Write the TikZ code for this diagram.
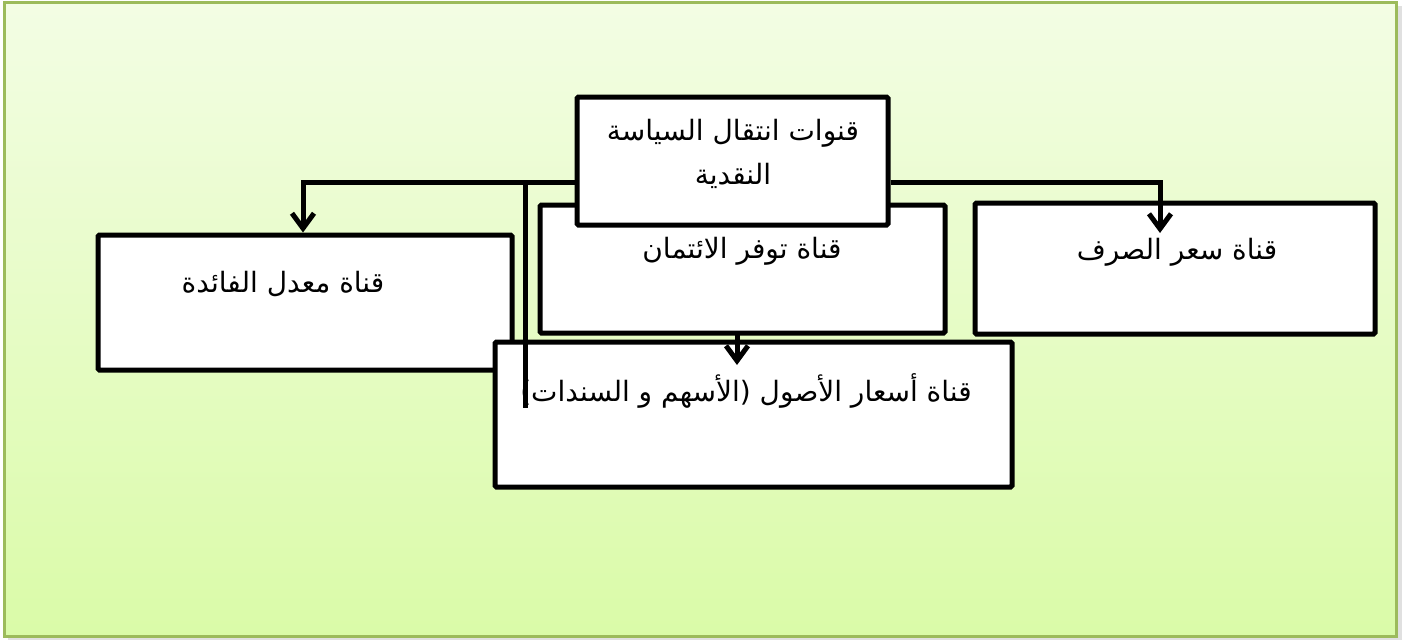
\documentclass[tikz,border=0pt]{standalone}
\usepackage{fontspec}
\usetikzlibrary{arrows.meta,calc}
\newfontfamily\arabicfont[Script=Arabic]{DejaVu Sans}
\TeXXeTstate=1
\definecolor{bgtop}{HTML}{F3FDE4}
\definecolor{bgbot}{HTML}{DAFBA8}
\definecolor{frame}{HTML}{9CBB5B}
\pgfdeclarelayer{bg}
\pgfdeclarelayer{low}
\pgfdeclarelayer{mid}
\pgfsetlayers{bg,low,mid,main}
\tikzset{
  box/.style={draw=black, line width=5pt, fill=white, rounded corners=1.5pt, inner sep=0pt},
  lbl/.style={font=\arabicfont\fontsize{28}{33}\selectfont, inner sep=0pt, align=center},
  conn/.style={draw=black, line width=5pt},
  arr/.style={conn, -{Straight Barb[length=15pt,width=22pt,line width=5pt]}}
}
\begin{document}
\begin{tikzpicture}[x=1pt,y=-1pt]
\useasboundingbox (0,0) rectangle (1408,641);
\begin{pgfonlayer}{bg}
\fill[black!12] (8,6) rectangle (1402,640);
\shade[top color=bgtop, bottom color=bgbot, draw=frame, line width=3pt] (4,2) rectangle (1396,636);
\end{pgfonlayer}
% boxes under connectors
\begin{pgfonlayer}{low}
\node[box, minimum width=414pt, minimum height=135pt] (interest) at (305,302.5) {};
\node[box, minimum width=400pt, minimum height=131pt] (exchange) at (1175,268.5) {};
\node[box, minimum width=517pt, minimum height=145pt] (asset) at (753.5,414.5) {};
\node[lbl] (interestT) at (283,284) {\beginR قناة معدل الفائدة\endR};
\node[lbl] (exchangeT) at (1177,252) {\beginR قناة سعر الصرف\endR};
\node[lbl] (assetT) at (746,391) {\beginR قناة أسعار الأصول (الأسهم و السندات)\endR};
\end{pgfonlayer}
% boxes above connectors
\node[box, minimum width=405pt, minimum height=128pt] (credit) at (742.5,269) {};
\node[lbl] (creditT) at (742,251) {\beginR قناة توفر الائتمان\endR};
\node[box, minimum width=311pt, minimum height=128pt] (root) at (732.5,161) {};
\node[lbl] (rootT1) at (733,133) {\beginR قنوات انتقال السياسة\endR};
\node[lbl] (rootT2) at (733,176) {\beginR النقدية\endR};
% connectors
\coordinate (exTip) at (1160,233);
\coordinate (jA) at (525,182);
\coordinate (jB) at (525,408);
\coordinate (asX) at (737,0);
\coordinate (asTip) at (737,365);
\begin{pgfonlayer}{mid}
\draw[arr] ($(root.west)+(0,21)$) -| ($(interest.north)+(-2,0)$);
\draw[arr] ($(root.east)+(0,21)$) -| (exTip);
\draw[conn] (jA) -- (jB);
\draw[arr] (root.south -| asX) -- (asTip);
\end{pgfonlayer}
\end{tikzpicture}
\end{document}
